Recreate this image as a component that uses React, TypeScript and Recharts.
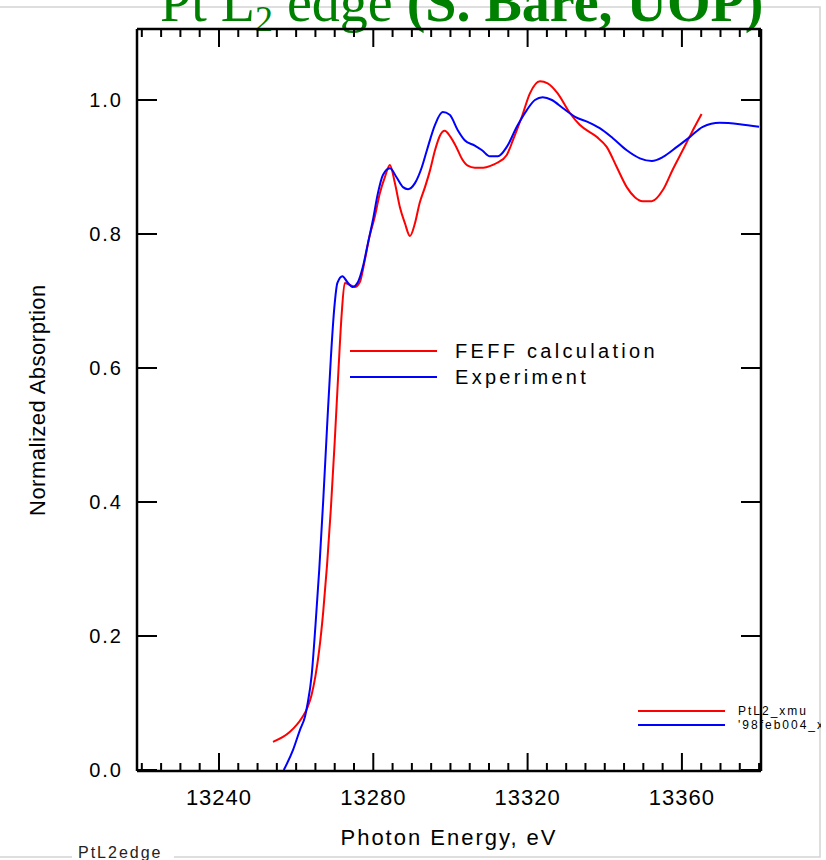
import React from 'react';
import { LineChart, Line, XAxis, YAxis } from 'recharts';

// FEFF calculation (red)
const feffEnergy = [
  13254.0, 13258.4, 13261.5, 13263.0, 13264.0, 13265.0, 13266.0, 13267.0, 13268.0, 13269.0,
  13270.0, 13271.0, 13271.8, 13272.6, 13273.9, 13275.2, 13276.5, 13277.8, 13279.0,
  13280.4, 13281.7, 13283.0, 13284.3, 13285.6, 13286.9, 13288.2, 13289.5, 13290.8, 13292.0,
  13293.4, 13294.7, 13296.0, 13297.3, 13298.5, 13300.0, 13301.5, 13303.0, 13304.5, 13306.3,
  13308.5, 13310.5, 13312.0, 13314.6, 13316.2, 13318.5, 13320.6, 13323.2, 13325.2, 13327.8,
  13330.9, 13333.5, 13337.9, 13340.5, 13343.1, 13345.7, 13347.8, 13349.8, 13352.2, 13355.1,
  13357.6, 13360.2, 13362.5, 13365.1,
];
const feffMu = [
  0.042, 0.057, 0.078, 0.094, 0.112, 0.14, 0.18, 0.235, 0.305, 0.39,
  0.49, 0.6, 0.68, 0.727, 0.724, 0.721, 0.728, 0.761, 0.796,
  0.826, 0.861, 0.885, 0.903, 0.876, 0.84, 0.816, 0.797, 0.816, 0.846,
  0.87, 0.895, 0.925, 0.947, 0.954, 0.945, 0.93, 0.912, 0.902, 0.899,
  0.899, 0.902, 0.906, 0.918, 0.94, 0.975, 1.01, 1.028, 1.025, 1.01,
  0.981, 0.963, 0.945, 0.93, 0.9, 0.87, 0.855, 0.849, 0.849, 0.866,
  0.896, 0.925, 0.951, 0.979,
];

// Experiment (blue)
const expEnergy = [
  13256.8, 13259.2, 13261.0, 13262.3, 13263.0, 13264.0, 13265.0, 13266.0, 13267.0, 13268.0,
  13269.0, 13269.9, 13270.7, 13272.0, 13273.3, 13274.6, 13276.0, 13277.3,
  13278.6, 13279.9, 13281.2, 13282.5, 13284.3, 13286.1, 13287.7, 13289.0, 13290.8, 13292.6,
  13293.9, 13296.0, 13298.0, 13299.8, 13301.9, 13303.7, 13306.3, 13308.2, 13310.2, 13312.3,
  13314.6, 13317.2, 13319.8, 13321.9, 13323.9, 13326.3, 13329.1, 13332.3, 13336.1, 13338.7,
  13342.1, 13345.7, 13349.1, 13352.2, 13355.1, 13358.7, 13362.1, 13365.4, 13369.8, 13375.0,
  13380.0,
];
const expMu = [
  0.0, 0.03, 0.06, 0.08, 0.1, 0.14, 0.215, 0.3, 0.4, 0.51,
  0.615, 0.69, 0.727, 0.737, 0.728, 0.721, 0.728, 0.751,
  0.786, 0.821, 0.861, 0.888, 0.898, 0.884, 0.87, 0.867, 0.876, 0.9,
  0.925, 0.963, 0.982, 0.978, 0.955, 0.94, 0.932, 0.925, 0.916, 0.916,
  0.93, 0.96, 0.985, 1.0, 1.004, 1.0, 0.988, 0.975, 0.966, 0.958,
  0.943, 0.925, 0.913, 0.909, 0.915, 0.93, 0.945, 0.96, 0.966, 0.964,
  0.96,
];

const seriesNames = ['FEFF calculation', 'Experiment'];
const fileNames = ['PtL2_xmu', "'98feb004_xmu"];
const seriesColors = ['#ff0000', '#0000ff'];

const xTicks: number[] = [];
for (let e = 13220; e <= 13380; e += 5) xTicks.push(e);
const xLabels = [13240, 13280, 13320, 13360];
const yTicks = [0, 0.2, 0.4, 0.6, 0.8, 1.0];

const feffData = feffEnergy.map((e, i) => ({ e, mu: feffMu[i] }));
const expData = expEnergy.map((e, i) => ({ e, mu: expMu[i] }));

const font = 'Arial, "Liberation Sans", sans-serif';

const BottomTick = (props: any) => {
  const { x, y, payload } = props;
  const major = xLabels.includes(payload.value);
  return (
    <g>
      <line x1={x} x2={x} y1={y} y2={y - (major ? 18 : 8)} stroke="#000" strokeWidth={2} />
      {major && (
        <text x={x} y={y + 34} textAnchor="middle" fontSize={22} letterSpacing={1} fill="#000" fontFamily={font}>
          {payload.value}
        </text>
      )}
    </g>
  );
};

const TopTick = (props: any) => {
  const { x, y, payload } = props;
  const major = xLabels.includes(payload.value);
  return <line x1={x} x2={x} y1={y} y2={y + (major ? 18 : 8)} stroke="#000" strokeWidth={2} />;
};

const LeftTick = (props: any) => {
  const { x, y, payload } = props;
  return (
    <g>
      <line x1={x} x2={x + 20} y1={y} y2={y} stroke="#000" strokeWidth={2} />
      <text x={x - 14} y={y + 7} textAnchor="end" fontSize={20} letterSpacing={2} fill="#000" fontFamily={font}>
        {payload.value.toFixed(1)}
      </text>
    </g>
  );
};

const RightTick = (props: any) => {
  const { x, y } = props;
  return <line x1={x} x2={x - 20} y1={y} y2={y} stroke="#000" strokeWidth={2} />;
};

export default function App() {
  const axisLine = { stroke: '#000', strokeWidth: 2.5 };
  return (
    <div style={{ position: 'absolute', left: 0, top: 0, width: 826, height: 860, background: '#fff', fontFamily: font }}>
      <svg width={826} height={860} style={{ position: 'absolute', left: 0, top: 0 }}>
        <polyline points="0,7 820,7 820,857 0,857" fill="none" stroke="#d4d4d4" strokeWidth={1.5} />
        <text x={160} y={21} fontSize={56} fill="#008000" fontFamily='"Times New Roman", "Liberation Serif", serif'>
          Pt L<tspan fontSize={36} dy={10}>2</tspan>
          <tspan dy={-10}> edge  </tspan>
          <tspan fontWeight="bold">(S. Bare, UOP)</tspan>
        </text>
        <rect x={72} y={842} width={102} height={18} fill="#fff" />
        <text x={78} y={858} fontSize={16} letterSpacing={2} fill="#222" fontFamily={font}>PtL2edge</text>
      </svg>
      <div style={{ position: 'absolute', left: 0, top: 0 }}>
        <LineChart width={826} height={860} margin={{ top: 19, right: 55, bottom: 59, left: 77 }}>
          <XAxis
            xAxisId="bottom"
            type="number"
            dataKey="e"
            domain={[13218.75, 13380.5]}
            ticks={xTicks}
            interval={0}
            allowDataOverflow
            height={30}
            tickSize={0}
            tickMargin={0}
            tickLine={false}
            axisLine={axisLine}
            tick={<BottomTick />}
            label={{ value: 'Photon Energy, eV', position: 'insideBottom', offset: -44, fontSize: 22, letterSpacing: 2, fill: '#000', fontFamily: font }}
          />
          <XAxis
            xAxisId="top"
            orientation="top"
            type="number"
            dataKey="e"
            domain={[13218.75, 13380.5]}
            ticks={xTicks}
            interval={0}
            allowDataOverflow
            height={10}
            tickSize={0}
            tickMargin={0}
            tickLine={false}
            axisLine={axisLine}
            tick={<TopTick />}
          />
          <YAxis
            yAxisId="left"
            type="number"
            domain={[-0.0015, 1.106]}
            ticks={yTicks}
            interval={0}
            allowDataOverflow
            width={60}
            tickSize={0}
            tickMargin={0}
            tickLine={false}
            axisLine={axisLine}
            tick={<LeftTick />}
            label={{ value: 'Normalized Absorption', angle: -90, position: 'insideLeft', offset: -40, dy: 116, fontSize: 22, letterSpacing: 0.5, fill: '#000', fontFamily: font }}
          />
          <YAxis
            yAxisId="right"
            orientation="right"
            type="number"
            domain={[-0.0015, 1.106]}
            ticks={yTicks}
            interval={0}
            allowDataOverflow
            width={10}
            tickSize={0}
            tickMargin={0}
            tickLine={false}
            axisLine={axisLine}
            tick={<RightTick />}
          />
          <Line
            xAxisId="bottom"
            yAxisId="left"
            data={feffData}
            dataKey="mu"
            type="monotone"
            stroke={seriesColors[0]}
            strokeWidth={2}
            dot={false}
            name={seriesNames[0]}
            isAnimationActive={false}
          />
          <Line
            xAxisId="bottom"
            yAxisId="left"
            data={expData}
            dataKey="mu"
            type="monotone"
            stroke={seriesColors[1]}
            strokeWidth={2}
            dot={false}
            name={seriesNames[1]}
            isAnimationActive={false}
          />
        </LineChart>
      </div>
      <svg width={826} height={860} style={{ position: 'absolute', left: 0, top: 0, pointerEvents: 'none' }}>
        <defs>
          <clipPath id="frameClip">
            <rect x={0} y={0} width={821} height={860} />
          </clipPath>
        </defs>
        {seriesNames.map((name, i) => (
          <g key={name}>
            <line x1={350} x2={437} y1={351 + i * 26} y2={351 + i * 26} stroke={seriesColors[i]} strokeWidth={2} />
            <text x={455} y={358 + i * 26} fontSize={20} letterSpacing={3.3} fill="#000" fontFamily={font}>{name}</text>
          </g>
        ))}
        <g clipPath="url(#frameClip)">
          {fileNames.map((name, i) => (
            <g key={name}>
              <line x1={638} x2={725} y1={711 + i * 14} y2={711 + i * 14} stroke={seriesColors[i]} strokeWidth={2} />
              <text x={738} y={715 + i * 14} fontSize={12} letterSpacing={2} fill="#000" fontFamily={font}>{name}</text>
            </g>
          ))}
        </g>
      </svg>
    </div>
  );
}
